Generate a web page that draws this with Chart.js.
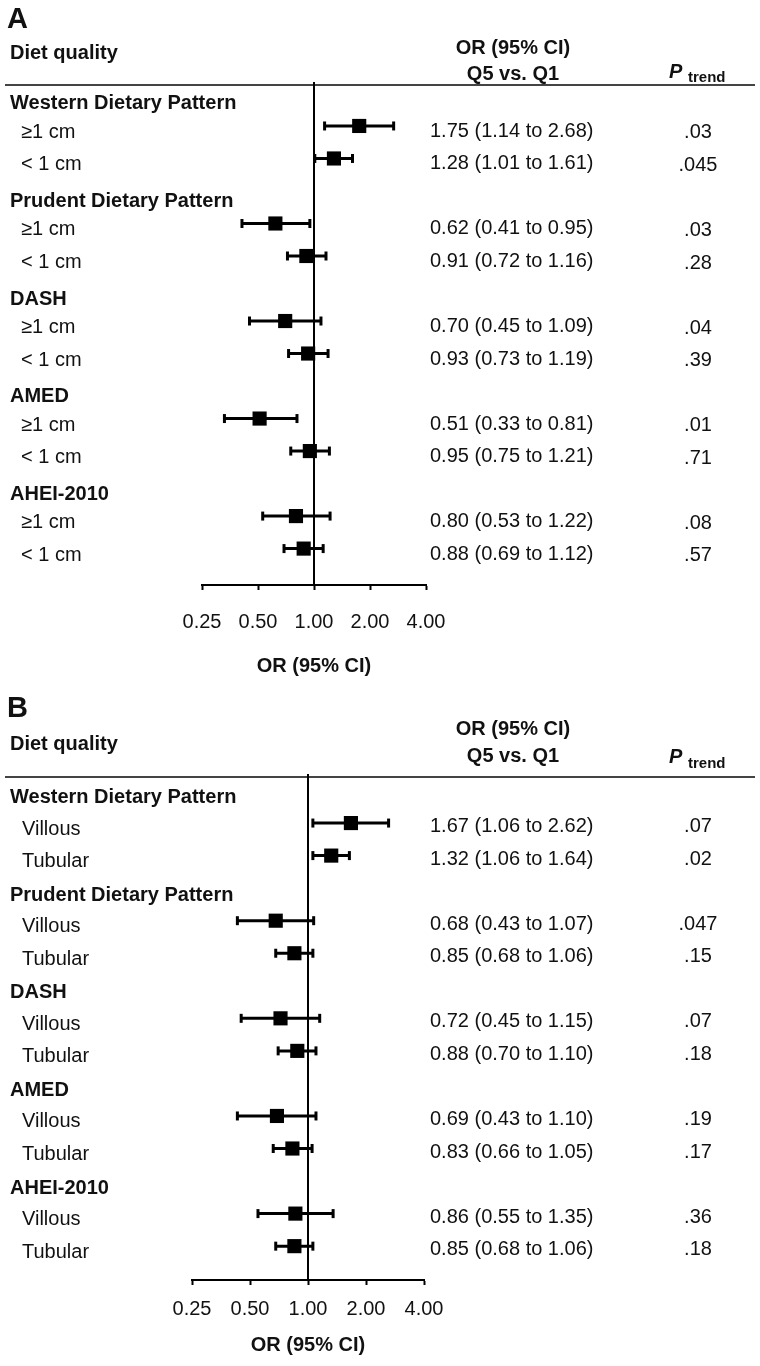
<!DOCTYPE html>
<html>
<head>
<meta charset="utf-8">
<script src="https://cdn.jsdelivr.net/npm/chart.js@4.4.1/dist/chart.umd.min.js"></script>
<style>
    body { margin: 0; background: #fff; }
    .panel { position: relative; width: 760px; height: 683px; }
</style>
</head>
<body>
<div class="panel"><canvas id="chartA"></canvas></div>
<div class="panel"><canvas id="chartB"></canvas></div>
<script>
'use strict';

// diet quality scores, shared by both panels
const groups = ['Western Dietary Pattern', 'Prudent Dietary Pattern', 'DASH', 'AMED', 'AHEI-2010'];

// panel A: adenoma size
const subgroupsA = ['\u22651 cm', '< 1 cm'];
const orA = [1.75, 1.28, 0.62, 0.91, 0.70, 0.93, 0.51, 0.95, 0.80, 0.88];
const lowA = [1.14, 1.01, 0.41, 0.72, 0.45, 0.73, 0.33, 0.75, 0.53, 0.69];
const highA = [2.68, 1.61, 0.95, 1.16, 1.09, 1.19, 0.81, 1.21, 1.22, 1.12];
const pTrendA = ['.03', '.045', '.03', '.28', '.04', '.39', '.01', '.71', '.08', '.57'];

// panel B: histology
const subgroupsB = ['Villous', 'Tubular'];
const orB = [1.67, 1.32, 0.68, 0.85, 0.72, 0.88, 0.69, 0.83, 0.86, 0.85];
const lowB = [1.06, 1.06, 0.43, 0.68, 0.45, 0.70, 0.43, 0.66, 0.55, 0.68];
const highB = [2.62, 1.64, 1.07, 1.06, 1.15, 1.10, 1.10, 1.05, 1.35, 1.06];
const pTrendB = ['.07', '.02', '.047', '.15', '.07', '.18', '.19', '.17', '.36', '.18'];

const axisTicks = [0.25, 0.5, 1, 2, 4];

const FONT = '"Liberation Sans", Arial, Helvetica, sans-serif';
const INK = '#111';

// two subgroup rows under each group header row
function rowOf(i) {
    return Math.floor(i / 2) * 3 + 1 + (i % 2);
}

/**
 * @brief draws header rule, line of no effect and all table text
 */
const forestPlugin = {
    id: 'forest',
    beforeDatasetsDraw(chart, args, o) {
        const ctx = chart.ctx;
        const area = chart.chartArea;
        const x1 = chart.scales.x.getPixelForValue(1);
        ctx.save();
        ctx.strokeStyle = '#444';
        ctx.lineWidth = 2;
        ctx.beginPath();
        ctx.moveTo(5, area.top);
        ctx.lineTo(755, area.top);
        ctx.stroke();
        ctx.strokeStyle = '#000';
        ctx.beginPath();
        ctx.moveTo(x1, area.top - 3);
        ctx.lineTo(x1, area.bottom);
        ctx.stroke();
        ctx.restore();
    },
    afterDraw(chart, args, o) {
        const ctx = chart.ctx;
        const y = chart.scales.y;
        ctx.save();
        ctx.fillStyle = INK;
        ctx.textBaseline = 'alphabetic';
        ctx.textAlign = 'left';

        ctx.font = 'bold 29px ' + FONT;
        ctx.fillText(o.letter, 7, o.letterBase);

        ctx.font = 'bold 20px ' + FONT;
        ctx.fillText('Diet quality', 10, o.dietBase);
        ctx.textAlign = 'center';
        ctx.fillText('OR (95% CI)', 513, o.orBase);
        ctx.fillText('Q5 vs. Q1', 513, o.q5Base);

        // P trend heading
        ctx.textAlign = 'left';
        ctx.font = 'italic bold 20px ' + FONT;
        ctx.fillText('P', 669, o.pBase);
        ctx.font = 'bold 15px ' + FONT;
        ctx.fillText('trend', 688, o.trendBase);

        // group headers
        ctx.font = 'bold 20px ' + FONT;
        for (let g = 0; g < groups.length; g++) {
            ctx.fillText(groups[g], 10, y.getPixelForValue(g * 3) + o.headOff);
        }

        // subgroup rows
        ctx.font = '20px ' + FONT;
        for (let i = 0; i < o.or.length; i++) {
            const py = y.getPixelForValue(rowOf(i));
            ctx.textAlign = 'left';
            ctx.fillText(o.subs[i % 2], o.subX, py + o.labelOff);
            const ci = o.or[i].toFixed(2) + ' (' + o.low[i].toFixed(2) + ' to ' + o.high[i].toFixed(2) + ')';
            ctx.fillText(ci, 430, py + o.ciOff);
            ctx.textAlign = 'center';
            ctx.fillText(o.p[i], 698, py + o.pOff);
        }
        ctx.restore();
    }
};

function buildChart(canvasId, subs, or, low, high, p, layout) {
    const datasets = [];
    for (let i = 0; i < or.length; i++) {
        datasets.push({
            data: [{ x: low[i], y: rowOf(i) }, { x: high[i], y: rowOf(i) }],
            showLine: true,
            borderColor: '#000',
            borderWidth: 3,
            pointStyle: 'line',
            rotation: 90,
            pointRadius: 4.5,
            pointBorderWidth: 3,
            pointBorderColor: '#000',
            order: 1
        });
    }
    datasets.push({
        data: or.map((v, i) => ({ x: v, y: rowOf(i) })),
        pointStyle: 'rect',
        pointRadius: 10,
        backgroundColor: '#000',
        borderWidth: 0,
        order: 0
    });

    return new Chart(document.getElementById(canvasId), {
        type: 'scatter',
        data: { datasets: datasets },
        plugins: [forestPlugin],
        options: {
            responsive: true,
            maintainAspectRatio: false,
            animation: false,
            events: [],
            layout: { padding: layout.padding },
            scales: {
                x: {
                    type: 'logarithmic',
                    min: 0.25,
                    max: 4,
                    afterBuildTicks: (s) => {
                        s.ticks = axisTicks.map(v => ({ value: v }));
                    },
                    grid: {
                        display: true,
                        drawOnChartArea: false,
                        drawTicks: true,
                        tickLength: 5,
                        tickWidth: 2,
                        tickColor: '#000'
                    },
                    border: { display: true, color: '#000', width: 2 },
                    ticks: {
                        autoSkip: false,
                        maxRotation: 0,
                        padding: layout.tickPad,
                        color: INK,
                        font: { family: FONT, size: 20 },
                        callback: (v) => Number(v).toFixed(2)
                    },
                    title: {
                        display: true,
                        text: 'OR (95% CI)',
                        color: INK,
                        padding: { top: 0, bottom: 0 },
                        font: { family: FONT, size: 20, weight: 'bold' }
                    }
                },
                y: {
                    type: 'linear',
                    display: false,
                    reverse: true,
                    min: layout.yMin,
                    max: layout.yMax
                }
            },
            plugins: {
                legend: { display: false },
                tooltip: { enabled: false },
                forest: Object.assign({ subs: subs, or: or, low: low, high: high, p: p }, layout.text)
            }
        }
    });
}

buildChart('chartA', subgroupsA, orA, lowA, highA, pTrendA, {
    padding: { top: 85, left: 202, right: 334, bottom: 5 },
    tickPad: 20,
    yMin: -0.26,
    yMax: 15.12,
    text: {
        letter: 'A', letterBase: 28, dietBase: 59, orBase: 54, q5Base: 80,
        pBase: 78, trendBase: 82, subX: 21,
        headOff: 16, labelOff: 12, ciOff: 11, pOff: 12.5
    }
});

buildChart('chartB', subgroupsB, orB, lowB, highB, pTrendB, {
    padding: { top: 94, left: 192, right: 336, bottom: 9 },
    tickPad: 12,
    yMin: -0.415,
    yMax: 15.04,
    text: {
        letter: 'B', letterBase: 34, dietBase: 67, orBase: 52, q5Base: 79,
        pBase: 80, trendBase: 85, subX: 22,
        headOff: 12.5, labelOff: 11.5, ciOff: 9, pOff: 9
    }
});
</script>
</body>
</html>
